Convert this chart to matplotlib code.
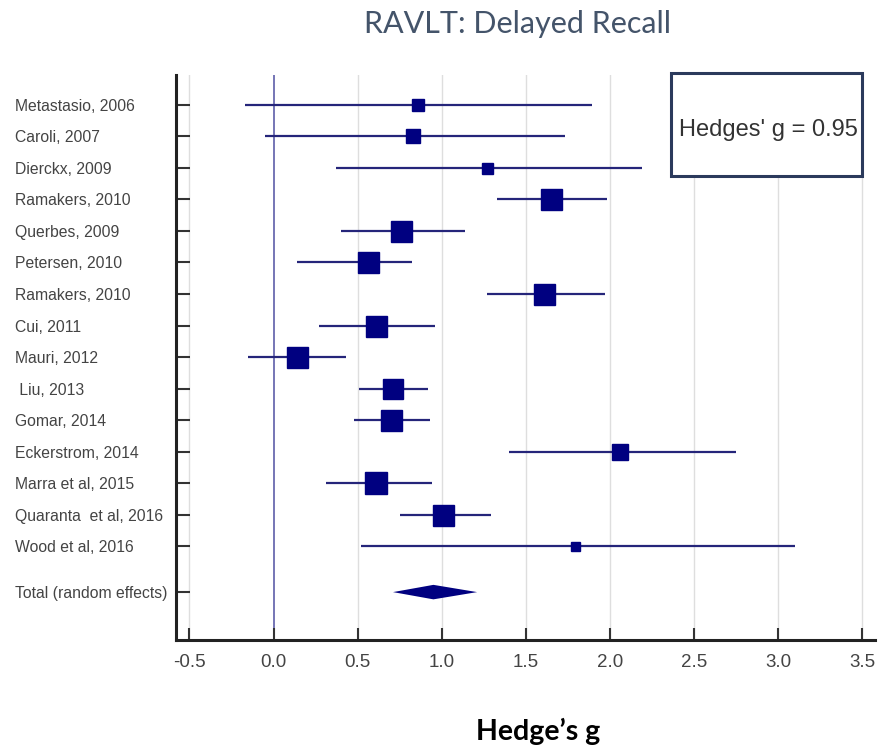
import matplotlib
matplotlib.use("Agg")
import matplotlib.pyplot as plt
from matplotlib.patches import Rectangle

studies = ["Metastasio, 2006", "Caroli, 2007", "Dierckx, 2009", "Ramakers, 2010",
           "Querbes, 2009", "Petersen, 2010", "Ramakers, 2010", "Cui, 2011",
           "Mauri, 2012", " Liu, 2013", "Gomar, 2014", "Eckerstrom, 2014",
           "Marra et al, 2015", "Quaranta  et al, 2016", "Wood et al, 2016"]
effect = [0.86, 0.83, 1.27, 1.65, 0.76, 0.56, 1.61, 0.61, 0.14, 0.71, 0.70, 2.06, 0.61, 1.01, 1.79]
ci_low = [-0.17, -0.05, 0.37, 1.33, 0.40, 0.14, 1.27, 0.27, -0.15, 0.51, 0.48, 1.40, 0.31, 0.75, 0.52]
ci_high = [1.89, 1.73, 2.19, 1.98, 1.14, 0.82, 1.97, 0.96, 0.43, 0.92, 0.93, 2.75, 0.94, 1.29, 3.10]
weight = [12, 14, 11, 21, 21, 21, 21, 21, 21, 20, 21, 16, 22, 21, 9]  # marker side, px

total_label = "Total (random effects)"
total_est = 0.95
total_low = 0.71
total_high = 1.21

xticks = [-0.5, 0.0, 0.5, 1.0, 1.5, 2.0, 2.5, 3.0, 3.5]
title = "RAVLT: Delayed Recall"
xlabel = "Hedge\u2019s g"
box_text = "Hedges' g = 0.95"

W, H, DPI = 882, 751, 100
fig = plt.figure(figsize=(W / DPI, H / DPI), dpi=DPI)
ax = fig.add_axes([176 / W, 1 - 640 / H, (875 - 176) / W, (640 - 75) / H])

navy = "#000080"
line_c = "#25257a"

ypos = list(range(len(studies)))
total_y = len(studies) - 1 + 1.46

# grid lines
for t in xticks:
    if t == 0:
        ax.axvline(0, color="#6a6ab0", lw=1.3, zorder=1)
    else:
        ax.axvline(t, color="#dedede", lw=1.0, zorder=0)

for y, e, lo, hi, w in zip(ypos, effect, ci_low, ci_high, weight):
    ax.plot([lo, hi], [y, y], color=line_c, lw=1.6, solid_capstyle="butt", zorder=2)
    ax.plot([e], [y], marker="s", ms=w * 72 / DPI, color=navy, mec=navy, zorder=3)

h = 0.23
ax.fill([total_low, total_est, total_high, total_est],
        [total_y, total_y - h, total_y, total_y + h], color=navy, zorder=3, lw=0)

ax.set_xlim(-0.58, 3.575)
ax.set_ylim(16.98, -0.95)
ax.set_xticks(xticks)
ax.set_xticklabels([f"{t:.1f}" for t in xticks], fontsize=13.5, color="#444444",
                   family="Liberation Sans")
ax.set_yticks(ypos + [total_y])
ax.set_yticklabels(studies + [total_label], fontsize=11.3, color="#444444",
                   family="Liberation Sans", ha="left")
ax.tick_params(axis="y", direction="in", length=10, width=1.5, pad=116, colors="#333333",
               labelcolor="#444444")
ax.tick_params(axis="x", direction="in", length=9, width=1.5, pad=10, colors="#333333",
               labelcolor="#444444")
for s in ["top", "right"]:
    ax.spines[s].set_visible(False)
for s in ["left", "bottom"]:
    ax.spines[s].set_linewidth(2.2)
    ax.spines[s].set_color("#222222")

# box
bx0 = (671 - 176) / (875 - 176)
bx1 = (862 - 176) / (875 - 176)
by0 = (640 - 176) / (640 - 75)
by1 = (640 - 73) / (640 - 75)
ax.add_patch(Rectangle((bx0, by0), bx1 - bx0, by1 - by0, transform=ax.transAxes,
                       fill=True, facecolor="white", edgecolor="#2b3a5c", lw=2.2,
                       clip_on=False, zorder=5))
ax.text((679 - 176) / (875 - 176), (640 - 130) / (640 - 75), box_text,
        transform=ax.transAxes, fontsize=17, family="Liberation Sans",
        color="#333333", ha="left", va="center", zorder=6)

fig.text(517 / W, 1 - 33 / H, title, fontsize=22, family="Lato", color="#44546A",
         ha="center", va="baseline")
fig.text(538 / W, 1 - 740 / H, xlabel, fontsize=20.5, family="Lato", fontweight="bold",
         color="black", ha="center", va="baseline")

fig.savefig("out.png", dpi=DPI)
